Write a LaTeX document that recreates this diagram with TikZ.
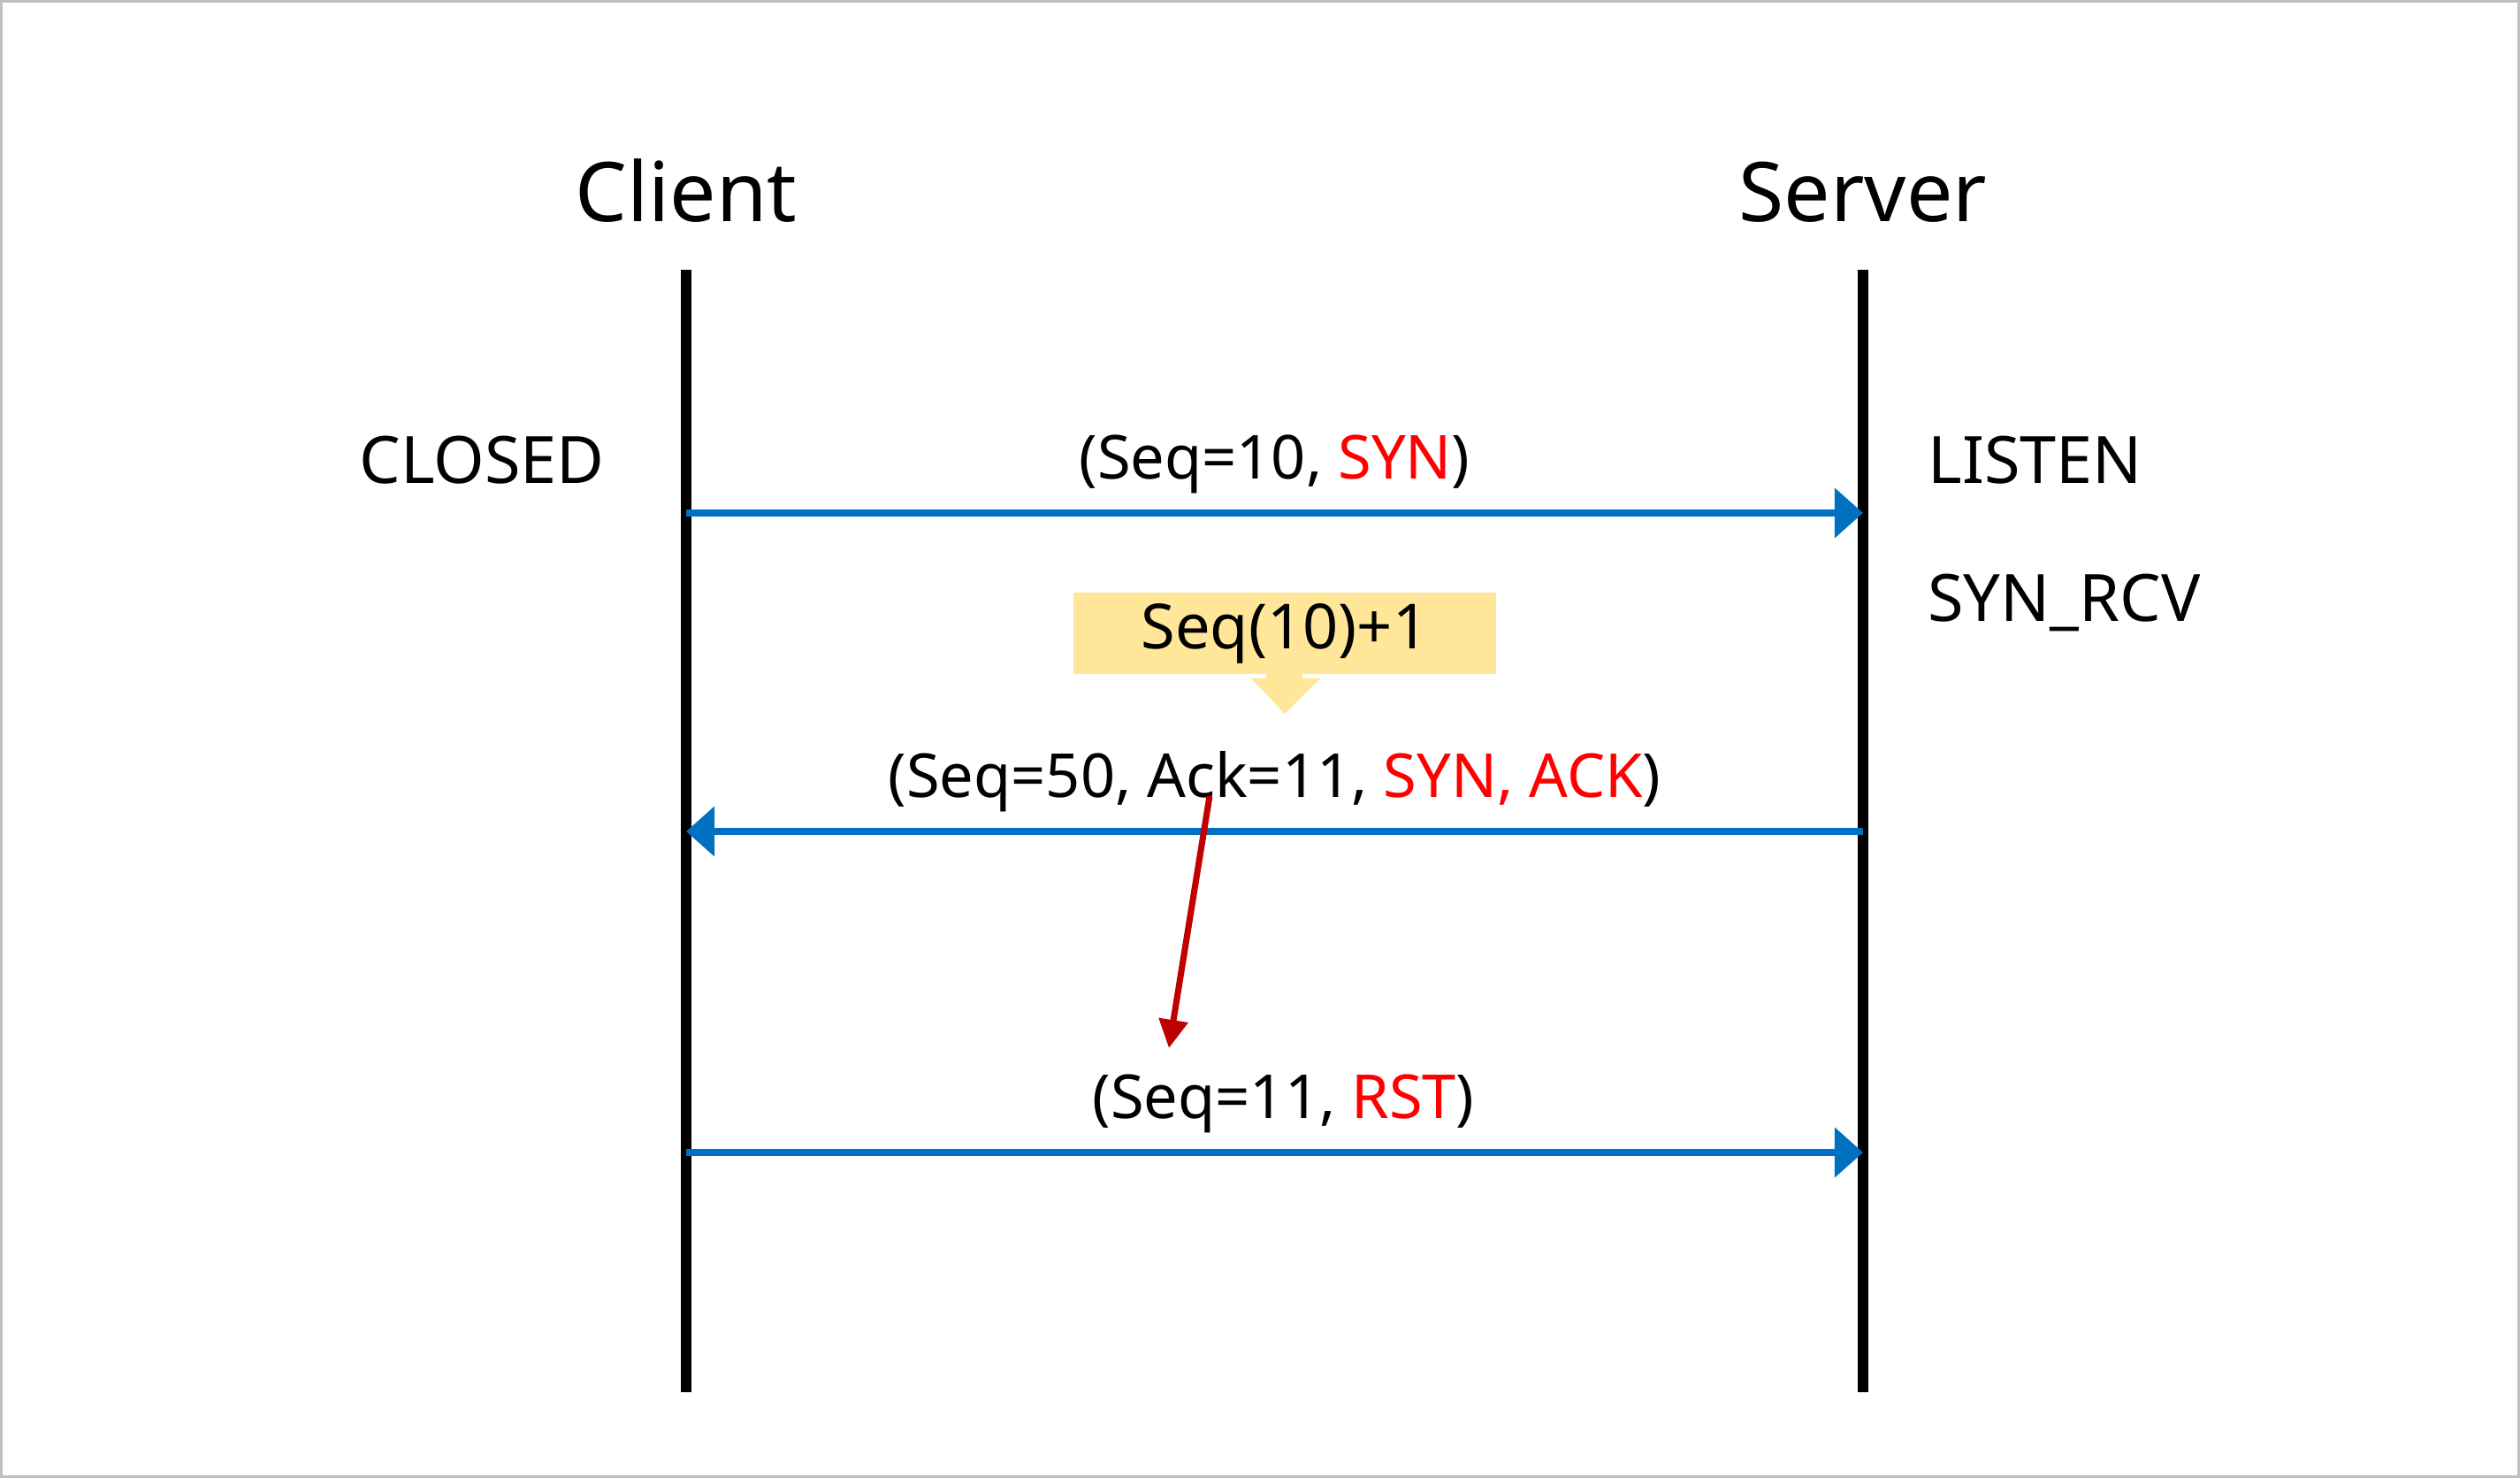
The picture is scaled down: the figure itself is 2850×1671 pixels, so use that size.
\documentclass[tikz,border=0pt]{standalone}
\usepackage{fontspec}
\setmainfont{Noto Sans}
\usetikzlibrary{arrows.meta}
\definecolor{msgblue}{HTML}{0070C0}
\definecolor{flagred}{HTML}{FF0000}
\definecolor{darkred}{HTML}{C00000}
\definecolor{noteyellow}{HTML}{FFE699}
\definecolor{framegray}{HTML}{BFBFBF}
\begin{document}
\begin{tikzpicture}[
		x=0.01cm, y=-0.01cm,
		lifeline/.style = {line width=3.6pt},
		msg/.style = {-{Triangle[length=0.32cm, width=0.55cm]}, msgblue, line width=2.1pt},
		msglabel/.style = {anchor=base, yshift=0.38cm, text=black, font=\fontsize{19.5}{23}\selectfont},
		state/.style = {anchor=base, font=\fontsize{21}{25}\selectfont},
		title/.style = {anchor=base, font=\fontsize{26.5}{31}\selectfont},
	]
	\path[use as bounding box] (0,0) rectangle (2850,1671);
	\draw[framegray, line width=0.9pt] (1.5,1.5) rectangle (2848.5,1669.5);

	% lifelines
	\coordinate (ctop) at (776,305);
	\coordinate (cbot) at (776,1574);
	\coordinate (stop) at (2107,305);
	\coordinate (sbot) at (2107,1574);
	\draw[lifeline] (ctop) -- (cbot);
	\draw[lifeline] (stop) -- (sbot);
	\node[title] (client) at (776,251) {Client};
	\node[title] (server) at (2107,251) {Server};

	% states
	\node[state] (closed) at (545,547) {CLOSED};
	\node[state, anchor=base west] (listen) at (2168,547) {LISTEN};
	\node[state, anchor=base west] (synrcv) at (2168,703) {SYN\_RCV};

	% messages
	\coordinate (c1) at (776,580);
	\coordinate (s1) at (2107,580);
	\coordinate (c2) at (776,940);
	\coordinate (s2) at (2107,940);
	\coordinate (c3) at (776,1303);
	\coordinate (s3) at (2107,1303);
	\draw[msg] (c1) -- (s1) node[msglabel, midway] (syn) {(Seq=10, \textcolor{flagred}{SYN})};
	\draw[msg] (s2) -- (c2) node[msglabel, midway] (synack) {(Seq=50, Ack=11, \textcolor{flagred}{SYN, ACK})};
	\draw[msg] (c3) -- (s3) node[msglabel, midway, xshift=0.1cm] (rst) {(Seq=11, \textcolor{flagred}{RST})};

	% Seq+1 note
	\node[fill=noteyellow, minimum width=4.77cm, minimum height=0.9cm, font=\fontsize{20}{24}\selectfont] (inc) at (1453,716) {Seq(10)+1};
	\fill[noteyellow] (1432,760) rectangle (1473,768);
	\fill[noteyellow] (1415,767) -- (1493,767) -- (1453,807) -- cycle;

	% ack number reused
	\coordinate (ackfrom) at (1368,900);
	\coordinate (ackto) at (1322,1185);
	\draw[-{Triangle[length=0.32cm, width=0.32cm]}, darkred, line width=2pt] (ackfrom) -- (ackto);
\end{tikzpicture}
\end{document}
